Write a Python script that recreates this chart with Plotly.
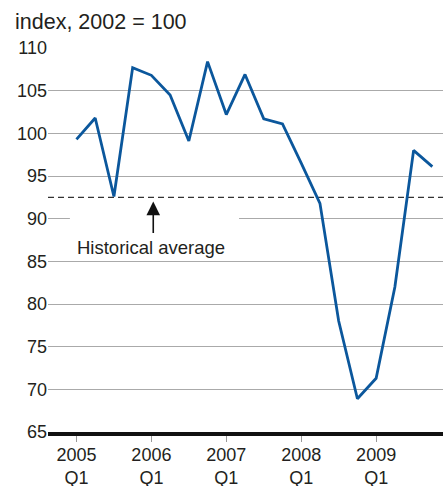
import plotly.graph_objects as go

quarters = ["2005Q1","2005Q2","2005Q3","2005Q4","2006Q1","2006Q2","2006Q3","2006Q4",
            "2007Q1","2007Q2","2007Q3","2007Q4","2008Q1","2008Q2","2008Q3","2008Q4",
            "2009Q1","2009Q2","2009Q3","2009Q4"]
values = [99.3, 101.8, 92.6, 107.7, 106.8, 104.5, 99.1, 108.4,
          102.2, 106.9, 101.7, 101.1, 96.5, 91.8, 78.0, 68.9,
          71.3, 82.0, 98.0, 96.1]
historical_average = 92.5
tick_idx = [0, 4, 8, 12, 16]
tick_text = ["2005<br>Q1", "2006<br>Q1", "2007<br>Q1", "2008<br>Q1", "2009<br>Q1"]
y_ticks = [65, 70, 75, 80, 85, 90, 95, 100, 105, 110]

FONT = "Liberation Sans, Arial, Helvetica, sans-serif"
TXT = "#231f20"

xs = list(range(len(quarters)))

fig = go.Figure()
fig.add_trace(go.Scatter(x=xs, y=values, mode="lines",
                         line=dict(color="#0b579c", width=2.8),
                         hoverinfo="skip", showlegend=False))

W, H = 443, 486
ml, mr, mt, mb = 48, 0, 48, 54
x0, x1 = -1.52, 19.57

# dashed historical average line
fig.add_shape(type="line", xref="paper", yref="y", x0=0, x1=1,
              y0=historical_average, y1=historical_average,
              line=dict(color="#333333", width=1.3, dash="6px,4px"), layer="between")
# white box behind label
fig.add_shape(type="rect", xref="x", yref="y", x0=-0.35, x1=8.68, y0=85.5, y1=91.6,
              fillcolor="white", line=dict(width=0), layer="between")

fig.add_annotation(x=4.1, y=92.0, xref="x", yref="y", text="", showarrow=True,
                   ax=0, ay=33, arrowhead=2, arrowsize=1.7, arrowwidth=1.6,
                   arrowcolor="#111111", standoff=0)
fig.add_annotation(x=4.0, y=86.65, xref="x", yref="y", text="Historical average",
                   showarrow=False, font=dict(family=FONT, size=18.5, color=TXT),
                   xanchor="center", yanchor="middle")

fig.add_annotation(xref="paper", yref="paper", x=-35/395, y=1 + 26/384,
                   text="index, 2002 = 100", showarrow=False, xanchor="left",
                   yanchor="middle", font=dict(family=FONT, size=21.5, color=TXT))

fig.update_layout(
    width=W, height=H, margin=dict(l=ml, r=mr, t=mt, b=mb, autoexpand=False),
    paper_bgcolor="white", plot_bgcolor="white",
    font=dict(family=FONT, size=18, color=TXT),
    xaxis=dict(range=[x0, x1], tickvals=tick_idx, ticktext=tick_text, automargin=False,
               showgrid=False, zeroline=False, showline=True, linecolor="#111111",
               linewidth=4, ticks="outside", ticklen=6, tickwidth=1, tickcolor="#999999",
               ticklabelstandoff=-3,
               tickfont=dict(family=FONT, size=18, color=TXT)),
    yaxis=dict(range=[65, 110], tickvals=y_ticks, showgrid=True, gridcolor="#aaaaaa",
               gridwidth=1.4, zeroline=False, showline=False, ticks="", automargin=False,
               tickfont=dict(family=FONT, size=18, color=TXT)),
)

fig.write_html("out.html", config={"displayModeBar": False},
               post_script="document.body.style.margin='0';document.body.style.overflow='hidden';")
